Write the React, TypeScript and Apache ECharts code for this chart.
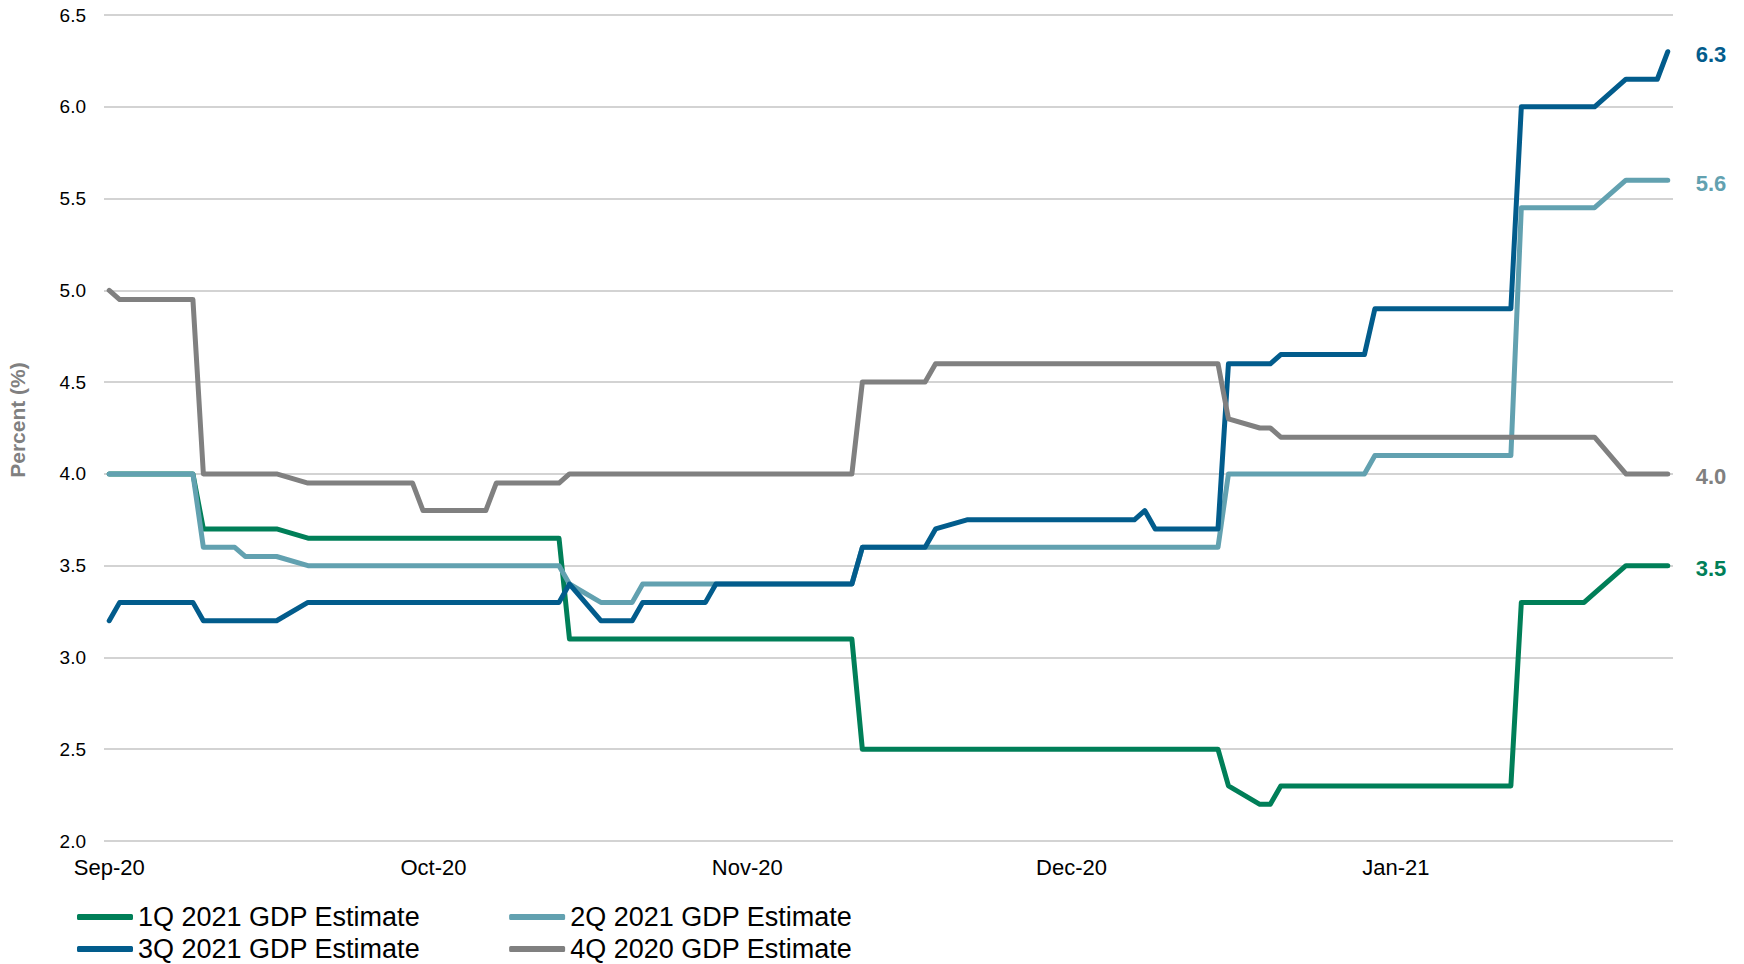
import React, { useEffect, useRef } from "react";
import * as echarts from "echarts";

// Trading-day axis: one category per calendar day, 2 Sep 2020 – 29 Jan 2021
const firstDay = Date.UTC(2020, 8, 2);
const dayCount = 150;
const dayCategories: string[] = [];
for (let i = 0; i < dayCount; i++) {
  dayCategories.push(new Date(firstDay + i * 86400000).toISOString().slice(0, 10));
}

// Month labels and the days they sit on
const tickDates = ["2020-09-02", "2020-10-03", "2020-11-02", "2020-12-03", "2021-01-03"];
const tickLabels = ["Sep-20", "Oct-20", "Nov-20", "Dec-20", "Jan-21"];

// Consensus GDP estimates (%), listed at each date the estimate moved
const gdp1Q2021: [string, number][] = [
  ["2020-09-02", 4.0], ["2020-09-10", 4.0], ["2020-09-11", 3.7], ["2020-09-18", 3.7],
  ["2020-09-21", 3.65], ["2020-10-15", 3.65], ["2020-10-16", 3.1], ["2020-11-12", 3.1],
  ["2020-11-13", 2.5], ["2020-12-17", 2.5], ["2020-12-18", 2.3], ["2020-12-21", 2.2],
  ["2020-12-22", 2.2], ["2020-12-23", 2.3], ["2021-01-14", 2.3], ["2021-01-15", 3.3],
  ["2021-01-21", 3.3], ["2021-01-22", 3.35], ["2021-01-25", 3.5], ["2021-01-29", 3.5],
];

const gdp2Q2021: [string, number][] = [
  ["2020-09-02", 4.0], ["2020-09-10", 4.0], ["2020-09-11", 3.6], ["2020-09-14", 3.6],
  ["2020-09-15", 3.55], ["2020-09-18", 3.55], ["2020-09-21", 3.5], ["2020-10-15", 3.5],
  ["2020-10-16", 3.4], ["2020-10-19", 3.3], ["2020-10-22", 3.3], ["2020-10-23", 3.4],
  ["2020-11-12", 3.4], ["2020-11-13", 3.6], ["2020-12-17", 3.6], ["2020-12-18", 4.0],
  ["2020-12-31", 4.0], ["2021-01-01", 4.1], ["2021-01-14", 4.1], ["2021-01-15", 5.45],
  ["2021-01-22", 5.45], ["2021-01-25", 5.6], ["2021-01-29", 5.6],
];

const gdp3Q2021: [string, number][] = [
  ["2020-09-02", 3.2], ["2020-09-03", 3.3], ["2020-09-10", 3.3], ["2020-09-11", 3.2],
  ["2020-09-18", 3.2], ["2020-09-21", 3.3], ["2020-10-15", 3.3], ["2020-10-16", 3.4],
  ["2020-10-19", 3.2], ["2020-10-22", 3.2], ["2020-10-23", 3.3], ["2020-10-29", 3.3],
  ["2020-10-30", 3.4], ["2020-11-12", 3.4], ["2020-11-13", 3.6], ["2020-11-19", 3.6],
  ["2020-11-20", 3.7], ["2020-11-23", 3.75], ["2020-12-09", 3.75], ["2020-12-10", 3.8],
  ["2020-12-11", 3.7], ["2020-12-17", 3.7], ["2020-12-18", 4.6], ["2020-12-22", 4.6],
  ["2020-12-23", 4.65], ["2020-12-31", 4.65], ["2021-01-01", 4.9], ["2021-01-14", 4.9],
  ["2021-01-15", 6.0], ["2021-01-22", 6.0], ["2021-01-25", 6.15], ["2021-01-28", 6.15],
  ["2021-01-29", 6.3],
];

const gdp4Q2020: [string, number][] = [
  ["2020-09-02", 5.0], ["2020-09-03", 4.95], ["2020-09-10", 4.95], ["2020-09-11", 4.0],
  ["2020-09-18", 4.0], ["2020-09-21", 3.95], ["2020-10-01", 3.95], ["2020-10-02", 3.8],
  ["2020-10-08", 3.8], ["2020-10-09", 3.95], ["2020-10-15", 3.95], ["2020-10-16", 4.0],
  ["2020-11-12", 4.0], ["2020-11-13", 4.5], ["2020-11-19", 4.5], ["2020-11-20", 4.6],
  ["2020-12-17", 4.6], ["2020-12-18", 4.3], ["2020-12-21", 4.25], ["2020-12-22", 4.25],
  ["2020-12-23", 4.2], ["2021-01-22", 4.2], ["2021-01-25", 4.0], ["2021-01-29", 4.0],
];

const seriesNames = [
  "1Q 2021 GDP Estimate",
  "2Q 2021 GDP Estimate",
  "3Q 2021 GDP Estimate",
  "4Q 2020 GDP Estimate",
];
const seriesData = [gdp1Q2021, gdp2Q2021, gdp3Q2021, gdp4Q2020];
const seriesColors = ["#007f58", "#62a1b0", "#025c8c", "#808080"];

const FONT = "'Liberation Sans', Arial, sans-serif";

export default function App() {
  const ref = useRef<HTMLDivElement>(null);

  useEffect(() => {
    if (!ref.current) return;
    const chart = echarts.init(ref.current, undefined, { renderer: "svg" });

    const series = seriesNames.map((name, k) => ({
      name,
      type: "line",
      data: seriesData[k],
      symbol: "none",
      silent: true,
      lineStyle: { width: 5, color: seriesColors[k], cap: "round", join: "round" },
      itemStyle: { color: seriesColors[k] },
      emphasis: { disabled: true },
      endLabel: {
        show: true,
        formatter: (p: any) => Number(p.value[1]).toFixed(1),
        color: seriesColors[k],
        fontFamily: FONT,
        fontWeight: "bold",
        fontSize: 22,
        distance: 28,
        offset: [0, 3],
      },
    }));

    const legendBase = {
      left: 72,
      orient: "horizontal",
      itemWidth: 56,
      itemHeight: 6,
      itemGap: 89,
      icon: "roundRect",
      selectedMode: false,
      textStyle: { fontFamily: FONT, fontSize: 27, color: "#000", lineHeight: 30 },
    };

    chart.setOption({
      animation: false,
      backgroundColor: "#ffffff",
      textStyle: { fontFamily: FONT },
      grid: {
        left: 104,
        right: 71,
        top: 15,
        bottom: 123,
        containLabel: false,
        outerBoundsMode: "none",
      },
      legend: [
        { ...legendBase, top: 897, data: [seriesNames[0], seriesNames[1]] },
        { ...legendBase, top: 929, data: [seriesNames[2], seriesNames[3]] },
      ],
      xAxis: {
        type: "category",
        data: dayCategories,
        boundaryGap: true,
        axisLine: { show: false },
        axisTick: { show: false },
        splitLine: { show: false },
        axisLabel: {
          interval: (index: number, value: string) => tickDates.includes(value),
          formatter: (value: string) => tickLabels[tickDates.indexOf(value)] ?? "",
          fontFamily: FONT,
          fontSize: 22,
          color: "#000",
          margin: 15,
        },
      },
      yAxis: {
        type: "value",
        min: 2.0,
        max: 6.5,
        interval: 0.5,
        name: "Percent (%)",
        nameLocation: "middle",
        nameGap: 76,
        nameTextStyle: {
          fontFamily: FONT,
          fontSize: 21,
          fontWeight: "bold",
          color: "#808080",
          padding: [0, 0, 0, 16],
        },
        axisLine: { show: false },
        axisTick: { show: false },
        axisLabel: {
          formatter: (v: number) => v.toFixed(1),
          fontFamily: FONT,
          fontSize: 19,
          color: "#000",
          margin: 18,
        },
        splitLine: { lineStyle: { color: "#c4c4c4", width: 1.5 } },
      },
      series,
    });

    return () => chart.dispose();
  }, []);

  return (
    <div
      ref={ref}
      style={{ position: "fixed", left: 0, top: 0, width: 1744, height: 964, background: "#fff" }}
    />
  );
}
